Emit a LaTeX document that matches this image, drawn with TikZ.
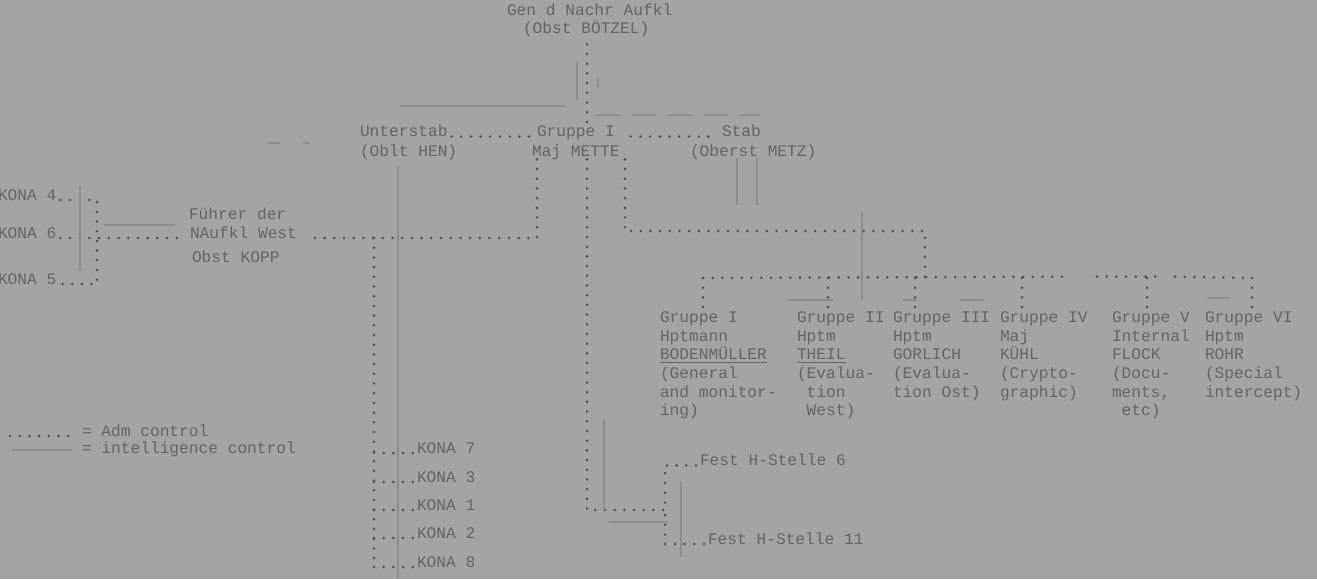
\documentclass[tikz,border=0pt]{standalone}
\usepackage{fontspec}
\newfontfamily\twfont{Liberation Mono}
\definecolor{paper}{HTML}{A4A4A4}
\definecolor{ink}{HTML}{646464}
\definecolor{dotink}{HTML}{4E4E4E}
\definecolor{faintink}{HTML}{8D8D8D}
\begin{document}
\begin{tikzpicture}[x=0.5pt,y=-0.5pt,
  lbl/.style={font=\twfont\fontsize{8.1}{9.35}\selectfont, text=ink, inner sep=0pt, outer sep=0pt, anchor=north west, align=left, execute at begin node={\rule{0pt}{7pt}}},
  adm/.style={draw=dotink, line width=1.4pt, line cap=round, dash pattern=on 0pt off 4.85pt, yshift=0.7pt},
  intel/.style={draw=faintink, line width=0.8pt},
]
\fill[paper] (0,0) rectangle (1317,579);
\useasboundingbox (0,0) rectangle (1317,579);

% ---------- labels ----------
\node[lbl] (gen) at (507,3.5) {Gen d Nachr Aufkl\\\hspace*{8pt}(Obst BÖTZEL)};
\node[lbl] (unt) at (360,122.5) {Unterstab};
\node[lbl] (untn) at (360,142) {(Oblt HEN)};
\node[lbl] (gr) at (537,122.5) {Gruppe I};
\node[lbl] (grn) at (532,142) {Maj METTE};
\node[lbl] (stab) at (722,122.5) {Stab};
\node[lbl] (stabn) at (690,142) {(Oberst METZ)};
\node[lbl] (fue1) at (189,205.5) {Führer der};
\node[lbl] (fue2) at (190,224) {NAufkl West};
\node[lbl] (fue3) at (192,248.5) {Obst KOPP};
\node[lbl] (k4) at (-2,186) {KONA 4};
\node[lbl] (k6) at (-2,224) {KONA 6};
\node[lbl] (k5) at (-2,270) {KONA 5};
\node[lbl] (k7) at (417,439) {KONA 7};
\node[lbl] (k3) at (417,468) {KONA 3};
\node[lbl] (k1) at (417,496) {KONA 1};
\node[lbl] (k2) at (417,524) {KONA 2};
\node[lbl] (k8) at (417,553) {KONA 8};
\node[lbl] (leg1) at (82,422) {= Adm control};
\node[lbl] (leg2) at (82,439.5) {= intelligence control};
\node[lbl] (g1) at (660,311.5) {Gruppe I\\Hptmann\\\underline{BODENMÜLLER}\\(General\\and monitor-\\ing)};
\node[lbl] (g2) at (797,311.5) {Gruppe II\\Hptm\\\underline{THEIL}\\(Evalua-\\\phantom{x}tion\\\phantom{x}West)};
\node[lbl] (g3) at (893,311.5) {Gruppe III\\Hptm\\GORLICH\\(Evalua-\\tion Ost)};
\node[lbl] (g4) at (1000,311.5) {Gruppe IV\\Maj\\KÜHL\\(Crypto-\\graphic)};
\node[lbl] (g5) at (1112,311.5) {Gruppe V\\Internal\\FLOCK\\(Docu-\\ments,\\\phantom{x}etc)};
\node[lbl] (g6) at (1205,311.5) {Gruppe VI\\Hptm\\ROHR\\(Special\\intercept)};
\node[lbl] (fest6) at (700,451.5) {Fest H-Stelle 6};
\node[lbl] (fest11) at (708,530) {Fest H-Stelle 11};

% ---------- junction coordinates ----------
\coordinate (jH) at (587,510);
\coordinate (jF) at (665,510);
\coordinate (kv) at (97,0);
\coordinate (gl) at (537,0);
\coordinate (uv) at (374,0);
\coordinate (gr2) at (625,0);
\coordinate (h1l) at (625,231);
\coordinate (h1r) at (925,231);
\coordinate (h2) at (925,278);
\coordinate (d1) at (703,278);
\coordinate (d2) at (828,278);
\coordinate (d3) at (915,278);
\coordinate (d4) at (1022,278);
\coordinate (d5) at (1147,278);
\coordinate (d6) at (1252,278);

% ---------- administrative control (dotted) ----------
\draw[adm] ([yshift=-3.5pt]gen.south -| jH) -- (gr.north -| jH);
\draw[adm] (grn.south -| jH) -- (jH) -- (jF);
\draw[adm] ([xshift=-2pt]fest6.base west) -| (jF);
\draw[adm] ([xshift=-2pt]fest11.base west) -| (jF);
\draw[adm] ([xshift=2pt]unt.base east) -- ([xshift=-2.5pt]gr.base west);
\draw[adm] ([xshift=8pt]gr.base east) -- ([xshift=-2.5pt]stab.base west);
\draw[adm] ([xshift=2pt]k4.base east) -- (k4.base -| kv) -- (k5.base -| kv) -- ([xshift=2pt]k5.base east);
\draw[adm] ([xshift=2pt]k6.base east) -- ([xshift=-2pt]fue2.base west);
\draw[adm] ([xshift=9pt]fue2.base east) -- (fue2.base -| gl) -- (grn.south -| gl);
\draw[adm] (fue2.base -| uv) -- (k8.base -| uv);
\foreach \k in {k7,k3,k1,k2,k8}{
  \draw[adm] (\k.base -| uv) -- ([xshift=-2pt]\k.base west);
}
\draw[adm] (grn.south -| gr2) -- (h1l) -- (h1r) -- (h2);
\draw[adm] (d1) -- (1070,278);
\draw[adm] (1097,278) -- (1157,278);
\draw[adm] (1175,278) -- (d6);
\draw[adm] (d1) -- (d1 |- g1.north);
\draw[adm] (d2) -- (d2 |- g2.north);
\draw[adm] (d3) -- (d3 |- g3.north);
\draw[adm] (d4) -- (d4 |- g4.north);
\draw[adm] (d5) -- (d5 |- g5.north);
\draw[adm] (d6) -- ([yshift=-2pt]d6 |- g6.north);
\draw[adm] ([xshift=-36pt]leg1.base west) -- ([xshift=-6pt]leg1.base west);

% ---------- intelligence control (faint solid) ----------
\draw[intel] ([xshift=-35pt,yshift=1.75pt]leg2.base west) -- ([xshift=-5pt,yshift=1.75pt]leg2.base west);
\draw[intel] (577,62) -- (577,100);
\draw[intel] (598,77) -- (598,87);
\draw[intel] (565,106) -- (400,106);
\draw[intel] (398,166) -- (398,579);
\draw[intel,dash pattern=on 12pt off 6pt] (596,115) -- (760,115);
\draw[intel] (268,143) -- (280,143);
\draw[intel] (303,143) -- (310,143);
\draw[intel] (737,158) -- (737,205);
\draw[intel] (757,158) -- (757,205);
\draw[intel] (862,212) -- (862,300);
\draw[intel] (80,186) -- (80,271);
\draw[intel] (104,225) -- (175,225);
\draw[intel] (604,420) -- (604,510);
\draw[intel] (609,522) -- (668,522);
\draw[intel] (681,482) -- (681,557);
\draw[intel] (787,300) -- (833,300);
\draw[intel] (903,300) -- (917,300);
\draw[intel] (960,300) -- (983,300);
\draw[intel] (1207,298) -- (1230,298);
\end{tikzpicture}
\end{document}
